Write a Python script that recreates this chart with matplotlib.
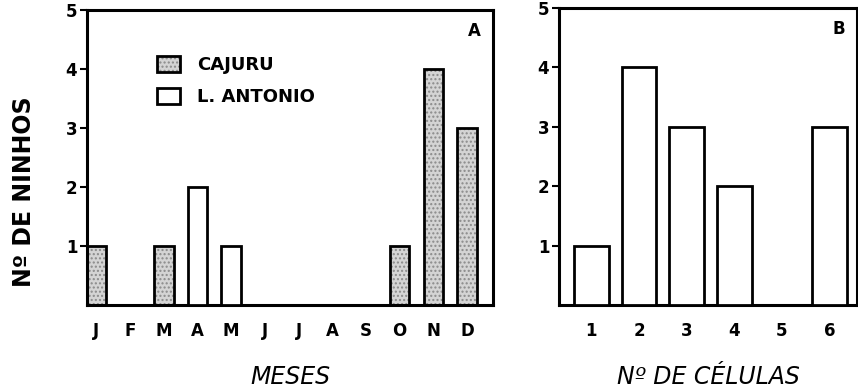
import matplotlib
matplotlib.use("Agg")
import matplotlib.pyplot as plt
from matplotlib.legend_handler import HandlerTuple

# ---- data ----
months = ["J", "F", "M", "A", "M", "J", "J", "A", "S", "O", "N", "D"]
cajuru = [1, 0, 1, 0, 0, 0, 0, 0, 0, 1, 4, 3]
l_antonio = [0, 0, 0, 2, 1, 0, 0, 0, 0, 0, 0, 0]
cell_counts = [1, 2, 3, 4, 5, 6]
nests_by_cells = [1, 4, 3, 2, 0, 3]
yticks = [1, 2, 3, 4, 5]

plt.rcParams['font.family'] = ['DejaVu Sans']
plt.rcParams['hatch.linewidth'] = 1.0

fig = plt.figure(figsize=(8.58, 3.9), dpi=100)
axA = fig.add_axes([0.1014, 0.2179, 0.4732, 0.7564])
axB = fig.add_axes([0.6515, 0.2179, 0.3473, 0.7616])

xa = list(range(len(months)))
w = 0.58
caj_idx = [i for i, v in enumerate(cajuru) if v > 0]
lan_idx = [i for i, v in enumerate(l_antonio) if v > 0]

fill = axA.bar([xa[i] for i in caj_idx], [cajuru[i] for i in caj_idx], width=w,
               color='#d4d4d4', edgecolor='#8a8a8a', hatch='....', linewidth=0, zorder=2)
edge = axA.bar([xa[i] for i in caj_idx], [cajuru[i] for i in caj_idx], width=w,
               facecolor='none', edgecolor='black', linewidth=2, zorder=3)
white = axA.bar([xa[i] for i in lan_idx], [l_antonio[i] for i in lan_idx], width=w,
                facecolor='white', edgecolor='black', linewidth=2, zorder=3)

axA.set_xlim(-0.28, 11.77)
axA.set_ylim(0, 5)
axA.set_xticks(xa)
axA.set_xticklabels(months)
axA.set_yticks(yticks)
axA.set_ylabel("Nº DE NINHOS", fontsize=17, fontweight='bold')
axA.yaxis.set_label_coords(-0.125, 0.385)
axA.set_xlabel("MESES", fontsize=17, style='oblique', labelpad=18)
axA.text(0.955, 0.93, "A", transform=axA.transAxes, fontsize=12,
         fontweight='bold', ha='center', va='center')

leg = axA.legend([(fill[0], edge[0]), white[0]], ["CAJURU", "L. ANTONIO"],
                 handler_map={tuple: HandlerTuple(ndivide=1, pad=0)},
                 loc='upper left', bbox_to_anchor=(0.15, 0.875), frameon=False,
                 borderpad=0, handlelength=1.3, handleheight=1.0,
                 handletextpad=0.9, labelspacing=0.75,
                 prop={'size': 13, 'weight': 'bold'})

wb = 0.73
axB.bar(cell_counts, nests_by_cells, width=wb, facecolor='white',
        edgecolor='black', linewidth=2, zorder=3)
axB.set_xlim(0.32, 6.58)
axB.set_ylim(0, 5)
axB.set_xticks(cell_counts)
axB.set_yticks(yticks)
axB.set_xlabel("Nº DE CÉLULAS", fontsize=17, style='oblique', labelpad=18)
axB.text(0.94, 0.93, "B", transform=axB.transAxes, fontsize=12,
         fontweight='bold', ha='center', va='center')

for ax in (axA, axB):
    for s in ax.spines.values():
        s.set_linewidth(2.2)
    ax.tick_params(axis='y', direction='out', length=5, width=1.5,
                   labelsize=12, pad=2)
    ax.tick_params(axis='x', length=0, labelsize=12, pad=12)
    for lab in ax.get_xticklabels() + ax.get_yticklabels():
        lab.set_fontweight('bold')

fig.savefig("out.png", dpi=100)
